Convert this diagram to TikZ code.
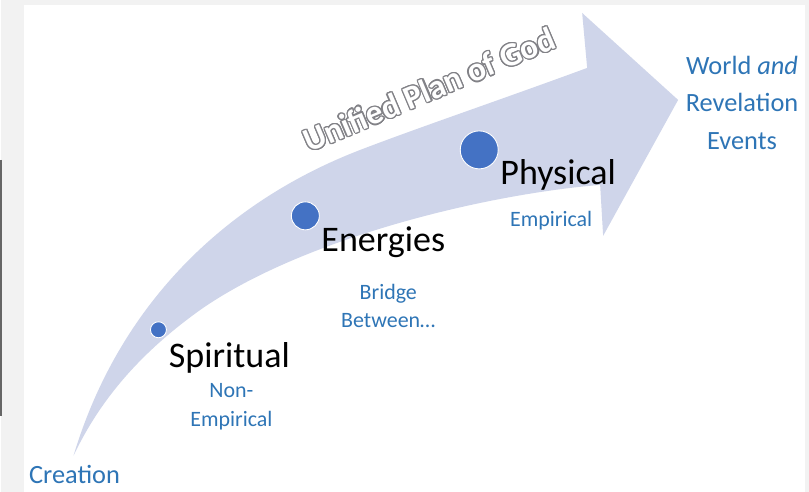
\documentclass[tikz,border=0pt]{standalone}
\usepackage{fontspec}
\setmainfont{Carlito}
\usepackage{xcolor}
\usepackage[copies]{contour}
\usepackage{tikz}
\usetikzlibrary{positioning}

\definecolor{bandfill}{RGB}{207,213,234}
\definecolor{dotblue}{RGB}{68,114,196}
\definecolor{notetext}{RGB}{46,117,182}
\definecolor{planline}{RGB}{130,130,135}
\definecolor{pagegray}{RGB}{242,242,242}

\contourlength{0.7pt}
\newcommand{\outlineword}[1]{\contour{planline}{\textcolor{white}{#1}}}

\begin{document}
\begin{tikzpicture}
        [x=0.02cm, y=-0.02cm,
        stage/.style={text=black,inner sep=0pt,anchor=base,font=\fontsize{20.5}{24}\selectfont},
        note/.style={text=notetext,inner sep=0pt,align=center,font=\fontsize{12.5}{16}\selectfont},
        endnote/.style={text=notetext,inner sep=0pt,align=center,font=\fontsize{15}{21.3}\selectfont},
        planword/.style={inner sep=0pt,anchor=base west,font=\bfseries\fontsize{19}{21}\selectfont},
        dot/.style={circle,fill=dotblue,draw=white,line width=0.5pt,inner sep=0pt}]

% page
\fill[pagegray] (0,0) rectangle (809,492);
\fill[white] (23,5) rectangle (805,492);
\draw[black!60,line width=1.2pt] (0.5,160) -- (0.5,416);
\useasboundingbox (0,0) rectangle (809,492);

% band
\fill[bandfill] (73,456) .. controls (120,300) and (230,200) .. (360,150)
        .. controls (420,127) and (500,100) .. (587,68) -- (582,13) -- (678,100) -- (603,236) -- (600,185)
        .. controls (480,195) and (300,240) .. (200,310) .. controls (130,360) and (95,410) .. cycle;

% title
\node[planword,rotate=23] (plan) at (309,153) {\outlineword{Unified Plan of God}};

% dots
\node[dot,minimum size=0.32cm] (spiritdot) at (158,330) {};
\node[dot,minimum size=0.56cm] (energydot) at (305,216) {};
\node[dot,minimum size=0.76cm] (physdot) at (479,150) {};

% stages
\node[stage] (spiritual) at (229,368) {Spiritual};
\node[stage] (energies) at (383,252) {Energies};
\node[stage] (physical) at (558,185) {Physical};

% notes
\node[note] (nonemp) at (231,407) {Non-\\Empirical};
\node[note] (bridge) at (388,306) {Bridge\\Between\ldots};
\node[note] (emp) at (551,221) {Empirical};
\node[endnote] (world) at (742,103) {World \textit{and}\\Revelation\\Events};
\node[endnote] (creation) at (74,475) {Creation};

\end{tikzpicture}
\end{document}
